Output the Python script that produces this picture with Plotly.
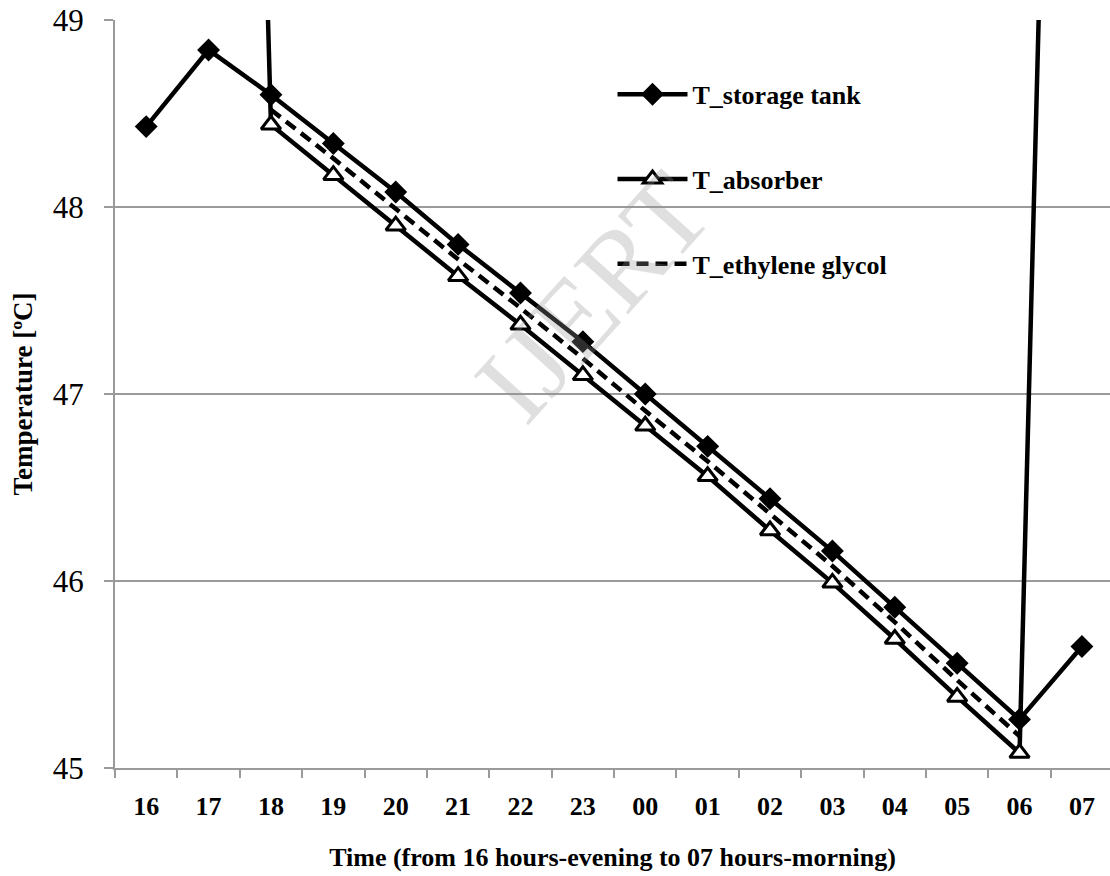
import plotly.graph_objects as go

hours = ["16", "17", "18", "19", "20", "21", "22", "23",
         "00", "01", "02", "03", "04", "05", "06", "07"]
t_storage = [48.43, 48.84, 48.60, 48.34, 48.08, 47.80, 47.54, 47.28,
             47.00, 46.72, 46.44, 46.16, 45.86, 45.56, 45.26, 45.65]
t_absorber = [None, 60.3, 48.44, 48.17, 47.90, 47.63, 47.37, 47.10,
              46.83, 46.56, 46.27, 45.99, 45.69, 45.38, 45.08, 57.9]
t_glycol = [None, None, 48.52, 48.26, 47.99, 47.72, 47.46, 47.19,
            46.91, 46.64, 46.36, 46.08, 45.78, 45.47, 45.17, None]

SERIF = "Liberation Serif, Times New Roman, serif"

fig = go.Figure()
fig.add_trace(go.Scatter(
    x=hours, y=t_absorber, name="T_absorber", mode="lines+markers",
    line=dict(color="black", width=4.5),
    marker=dict(symbol="triangle-up", size=17, color="white",
                line=dict(color="black", width=3)),
    legendgroup="b", legendrank=2, connectgaps=False))
fig.add_trace(go.Scatter(
    x=hours, y=t_glycol, name="T_ethylene glycol", mode="lines",
    line=dict(color="black", width=4.5, dash="12px,7px"),
    legendgroup="c", legendrank=3))
fig.add_trace(go.Scatter(
    x=hours, y=t_storage, name="T_storage tank", mode="lines+markers",
    line=dict(color="black", width=4.5),
    marker=dict(symbol="diamond", size=16, color="black",
                line=dict(color="black", width=1.5)),
    legendgroup="a", legendrank=1))

fig.add_annotation(
    text="IJERT", xref="paper", yref="paper", x=0.48, y=0.63,
    showarrow=False, textangle=-48,
    font=dict(family=SERIF, size=112, color="rgba(150,150,150,0.3)"))

fig.update_layout(
    width=1110, height=876,
    margin=dict(l=115, r=0, t=20, b=108),
    paper_bgcolor="white", plot_bgcolor="white",
    font=dict(family=SERIF, color="black"),
    showlegend=True,
    legend=dict(x=0.5, y=0.932, xanchor="left", yanchor="top",
                bgcolor="rgba(0,0,0,0)", tracegroupgap=48, itemwidth=70,
                font=dict(family=SERIF, size=26, weight="bold")),
    xaxis=dict(
        type="category", range=[-0.5, 15.45],
        showline=True, linecolor="#9a9a9a", linewidth=2,
        ticks="outside", tickson="boundaries", ticklen=8, tickcolor="#9a9a9a",
        tickwidth=2, showgrid=False, zeroline=False,
        tickfont=dict(family=SERIF, size=26, weight="bold"),
        ticklabelstandoff=14,
        title=dict(text="Time (from 16 hours-evening to 07 hours-morning)",
                   font=dict(family=SERIF, size=26, weight="bold"), standoff=28)),
    yaxis=dict(
        range=[45, 49], dtick=1, tick0=45,
        showline=True, linecolor="#9a9a9a", linewidth=2,
        ticks="outside", ticklen=9, tickcolor="#9a9a9a", tickwidth=2,
        showgrid=True, gridcolor="#9a9a9a", gridwidth=1.5, zeroline=False,
        tickfont=dict(family=SERIF, size=31),
        ticklabelstandoff=14,
        title=dict(text="Temperature [ºC]",
                   font=dict(family=SERIF, size=27, weight="bold"), standoff=12)),
)

fig.write_html("out.html")
